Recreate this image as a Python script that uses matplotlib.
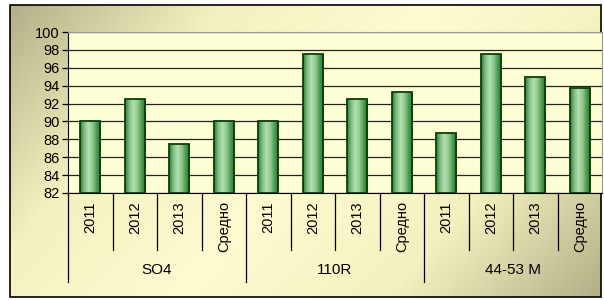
import matplotlib.pyplot as plt
import matplotlib.transforms as mtransforms
from matplotlib.colors import LinearSegmentedColormap
from matplotlib.patches import Rectangle
import numpy as np

groups = ['SO4', '110R', '44-53 M']
periods = ['2011', '2012', '2013', 'Средно']
values = [90.0, 92.5, 87.5, 90.0,
          90.0, 97.5, 92.5, 93.33,
          88.75, 97.5, 95.0, 93.75]
yticks = [82, 84, 86, 88, 90, 92, 94, 96, 98, 100]

plt.rcParams['font.family'] = ['Liberation Sans', 'DejaVu Sans']

W, H = 604, 300
fig = plt.figure(figsize=(W / 100, H / 100), dpi=100)

# background panel with diagonal gradient
bg = fig.add_axes([0, 0, 1, 1])
bg.set_xlim(0, W)
bg.set_ylim(H, 0)
bg.axis('off')
gx, gy = np.meshgrid(np.linspace(0, 1, 300), np.linspace(0, 1, 150))
t = (gx * 0.7 + gy * 0.3)
t = np.abs(t - 0.5) * 2
bgcmap = LinearSegmentedColormap.from_list('bg', ['#fdfbd0', '#f4f1c0', '#b3b088'])
bg.imshow(t, cmap=bgcmap, extent=[10, 601, 297, 5], aspect='auto', zorder=0)
bg.add_patch(Rectangle((10, 5), 591, 292, fill=False, edgecolor='black', lw=1.2, zorder=2))

ax = fig.add_axes([68 / W, 1 - 193 / H, 534 / W, 161 / H])
ax.set_facecolor('#ffffd6')
n = len(values)
x = np.arange(n)
bars = ax.bar(x, [v - 82 for v in values], bottom=82, width=0.45,
              facecolor='none', edgecolor='#0b3d0b', lw=1.3, zorder=3)

barcmap = LinearSegmentedColormap.from_list(
    'bar', ['#2f7f35', '#7fbf80', '#b4dfb2', '#8fcb8f', '#4f9b52', '#2a7030'])
grad = np.linspace(0, 1, 64).reshape(1, -1)
for b in bars:
    im = ax.imshow(grad, cmap=barcmap, aspect='auto', zorder=2,
                   extent=[b.get_x(), b.get_x() + b.get_width(), b.get_y(), b.get_y() + b.get_height()])
    im.set_clip_path(b)

ax.set_xlim(-0.5, n - 0.5)
ax.set_ylim(82, 100)
ax.set_yticks(yticks)
ax.set_yticklabels([str(v) for v in yticks], fontsize=10.5)
ax.yaxis.grid(True, color='#222222', lw=0.9)
ax.set_axisbelow(True)
ax.tick_params(axis='y', length=4, width=0.9, pad=2)
ax.set_xticks([])
for s in ['top', 'right']:
    ax.spines[s].set_color('#999999')
ax.spines['left'].set_color('black')
ax.spines['bottom'].set_color('black')

trans = mtransforms.blended_transform_factory(ax.transData, ax.transAxes)
for i in range(n):
    ax.text(x[i], -0.05, periods[i % 4], rotation=90, ha='center', va='top',
            fontsize=10.5, transform=trans)
for i in range(1, n):
    bottom = -0.553 if i % 4 == 0 else -0.354
    ax.plot([i - 0.5, i - 0.5], [0, bottom], color='black', lw=0.9,
            transform=trans, clip_on=False)
ax.plot([-0.5, -0.5], [0, -0.553], color='black', lw=0.9, transform=trans, clip_on=False)
for g, name in enumerate(groups):
    ax.text(g * 4 + 1.5, -0.478, name, ha='center', va='center', fontsize=11,
            transform=trans)

fig.savefig('out.png', dpi=100)
